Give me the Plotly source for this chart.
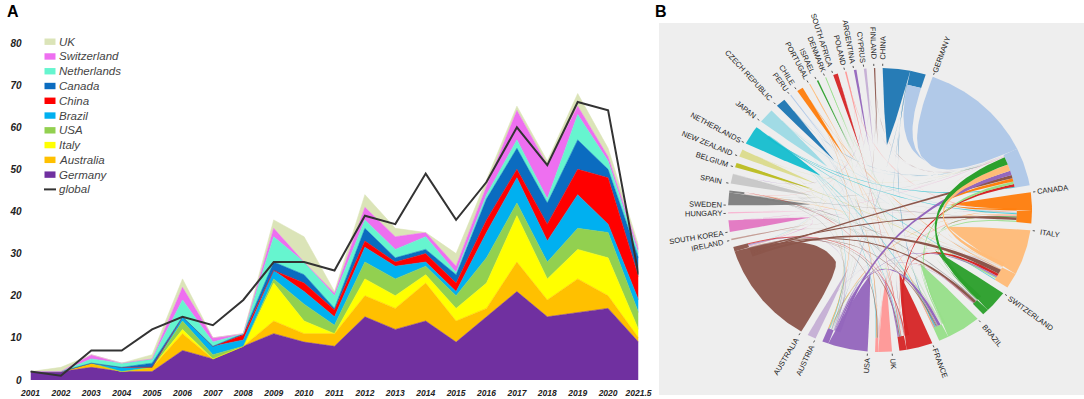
import numpy as np
import plotly.graph_objects as go

# ---------- Panel A data ----------
years = ["2001","2002","2003","2004","2005","2006","2007","2008","2009","2010","2011",
         "2012","2013","2014","2015","2016","2017","2018","2019","2020","2021.5"]
Germany     = [2,2,3,2,2,7,5,8,11,9,8,15,12,14,9,15,21,15,16,17,9]
Australia   = [0,0,1,0,1,4,0,0,3,2,3,5,5,9,5,2,7,4,8,3,1]
Italy       = [0,0,0,0,0,1,0,0,9,3,0,4,3,2,3,6,11,5,7,9,2]
USA         = [0,0,0,0,0,2,1,0,1,4,2,4,4,2,3,6,3,4,5,6,4]
Brazil      = [0,0,0,1,0,1,2,1.5,2,3,2,3.5,3,1,1,6,6,5,8,2,3]
China       = [0,0,0,0,0,0,0,1.2,0,2,1.6,1.5,1,2,2,3,2,4,6,11,5.5]
Canada      = [0,0,0,0,1,0,0,0.3,2,2,0.4,3,1,1,2,5,5,5,7,2,4.5]
Netherlands = [0,0,1,1,1,4,1,0,6,3,3,2,2,3,0.5,1,2,1,6,2,1]
Switzerland = [0,0,1,0,0,3,1,0,2,0,0.6,3,3,1,1.5,2,7,8,2,1,1]
UK          = [0,1,0,0,1,2,0,0,2,6,0.4,3,2,0,3,1.5,1,1,3,2,1]
global_line = [2,1,7,7,12,15,13,19,28,28,26,39,37,49,38,47,60,51,66,64,25]

series_names = ["Germany","Australia","Italy","USA","Brazil","China","Canada","Netherlands","Switzerland","UK"]
series_vals = [Germany,Australia,Italy,USA,Brazil,China,Canada,Netherlands,Switzerland,UK]
series_cols = ["#7030a0","#ffc000","#ffff00","#92d050","#00b0f0","#ff0000","#0b6cc0","#66f5cf","#ee6ff0","#dbe4b8"]

y_ticks = [0,10,20,30,40,50,60,70,80]

# ---------- Panel B data ----------
nodes = ["CHINA","GERMANY","CANADA","ITALY","SWITZERLAND","BRAZIL","FRANCE","UK","USA","AUSTRIA","AUSTRALIA",
         "IRELAND","SOUTH KOREA","HUNGARY","SWEDEN","SPAIN","BELGIUM","NEW ZEALAND","NETHERLANDS","JAPAN",
         "CZECH REPUBLIC","PERU","CHILE","PORTUGAL","ISRAEL","DENMARK","SOUTH AFRICA","POLAND","ARGENTINA","CYPRUS","FINLAND"]
node_weight = [16.5,59.7,12.6,24.8,11.4,17,12.8,6.4,17.6,3.3,43.7,.6,4.7,.5,6,4,1.8,3,7.7,6,3.7,.4,2.4,.4,.6,.4,1.8,.6,1,1,.5]

link_src = ["NETHERLANDS","FRANCE","BRAZIL","CANADA","AUSTRALIA","USA","ITALY","SWITZERLAND",
            "BRAZIL","SWEDEN","AUSTRALIA","SWITZERLAND","UK","ITALY","NETHERLANDS","JAPAN","POLAND",
            "NETHERLANDS","BELGIUM","BRAZIL","USA","FRANCE","AUSTRALIA","CHILE",
            "FRANCE","USA","AUSTRALIA","SWEDEN",
            "FRANCE","CHILE","CHINA","NETHERLANDS","AUSTRALIA","SWEDEN","USA",
            "USA","AUSTRALIA","NETHERLANDS","SOUTH AFRICA","PORTUGAL",
            "NETHERLANDS","CHILE","AUSTRALIA",
            "CHILE","BELGIUM","NETHERLANDS","CANADA","BRAZIL","SWEDEN","PERU",
            "FRANCE","USA","JAPAN","SOUTH KOREA",
            "FRANCE","ITALY","POLAND",
            "DENMARK","ISRAEL","FINLAND","CZECH REPUBLIC","SOUTH KOREA","SPAIN","SPAIN","HUNGARY","IRELAND",
            "AUSTRIA","AUSTRIA","NEW ZEALAND","NEW ZEALAND","CHINA","ARGENTINA","CYPRUS","JAPAN","SPAIN","BELGIUM",
            "CZECH REPUBLIC","PORTUGAL","DENMARK","ARGENTINA","UK","ITALY","BRAZIL",
            "SPAIN","SWEDEN","SWEDEN","JAPAN","NEW ZEALAND","PERU","PORTUGAL","CYPRUS","FINLAND","DENMARK",
            "CZECH REPUBLIC","SPAIN","JAPAN","CHINA","UK","AUSTRIA","SOUTH KOREA","IRELAND"]
link_dst = ["GERMANY","GERMANY","GERMANY","GERMANY","GERMANY","GERMANY","GERMANY","GERMANY",
            "CANADA","CANADA","CANADA","CANADA","CANADA","CANADA","CANADA","CANADA","CANADA",
            "ITALY","ITALY","ITALY","ITALY","ITALY","ITALY","ITALY",
            "SWITZERLAND","SWITZERLAND","SWITZERLAND","SWITZERLAND",
            "BRAZIL","BRAZIL","BRAZIL","BRAZIL","BRAZIL","BRAZIL","BRAZIL",
            "FRANCE","FRANCE","FRANCE","FRANCE","FRANCE",
            "UK","UK","UK",
            "USA","USA","USA","USA","USA","USA","USA",
            "AUSTRALIA","AUSTRALIA","AUSTRALIA","AUSTRALIA",
            "SWEDEN","SWEDEN","SWEDEN",
            "SWITZERLAND","BRAZIL","GERMANY","GERMANY","GERMANY","CANADA","ITALY","GERMANY","ITALY",
            "ITALY","UK","GERMANY","AUSTRALIA","USA","SPAIN","AUSTRALIA","GERMANY","USA","BRAZIL",
            "UK","FRANCE","USA","FRANCE","FRANCE","FRANCE","SWEDEN",
            "FRANCE","BRAZIL","GERMANY","FRANCE","ITALY","ITALY","AUSTRALIA","GERMANY","USA","BRAZIL",
            "FRANCE","USA","ITALY","FRANCE","GERMANY","SWITZERLAND","CANADA","CANADA"]
link_width = [.5,1.2,1.2,1.5,1.5,2,3,3.5,
              .6,.3,1.2,.5,.5,.4,.5,.4,.3,
              .4,.3,.6,.6,1.2,2,.3,
              .3,.3,1.2,.4,
              .2,.3,.3,.4,.5,.4,1.2,
              .6,.5,.3,.3,.15,
              .3,.3,.4,
              .3,.2,.3,.3,.3,.3,.2,
              .5,.4,.3,.3,
              .3,.3,.2,
              .15,.15,.1,.15,.2,.15,.15,.1,.2,
              .2,.1,.2,.15,.15,.1,.1,.1,.1,.1,
              .1,.1,.1,.1,.15,.15,.1,
              .1,.1,.1,.1,.1,.1,.1,.1,.1,.1,
              .1,.1,.1,.1,.1,.1,.1,.1]

tail_src = "GERMANY"
tail_dst = "CHINA"
tail_width = 6.0

# ---------- Panel B layout parameters ----------
palette = ["#1f77b4","#aec7e8","#ff7f0e","#ffbb78","#2ca02c","#98df8a","#d62728","#ff9896","#9467bd","#c5b0d5",
           "#8c564b","#c49c94","#e377c2","#f7b6d2","#7f7f7f","#c7c7c7","#bcbd22","#dbdb8d","#17becf","#9edae5"]
GAP, ROT = 2.81, 1.0
CX, CY, RX, RY = 880.0, 210.0, 152.0, 142.0
R_END, R_TIP = 0.9, 0.46
tip_angle = {"CHINA":5.7,"GERMANY":43,"CANADA":85,"ITALY":105,"SWITZERLAND":128,"BRAZIL":145,"FRANCE":164,
             "UK":175,"USA":188,"AUSTRIA":207,"AUSTRALIA":221}
W, H = 1084, 399

def hex2rgb(c):
    c = c.lstrip("#")
    return tuple(int(c[i:i+2], 16) for i in (0, 2, 4))
def blend(c, a, bg=(238,238,238)):
    r = hex2rgb(c)
    return "rgb(%d,%d,%d)" % tuple(round(r[i]*a + bg[i]*(1-a)) for i in range(3))
def rgba(c, a):
    return "rgba(%d,%d,%d,%.2f)" % (*hex2rgb(c), a)
def pol(deg, r=1.0):
    t = np.radians(deg)
    return np.array([np.sin(t)*r, np.cos(t)*r])
def arc(a, b, r=1.0):
    n = max(2, int(abs(b-a)*1.5)+2)
    return np.array([pol(d, r) for d in np.linspace(a, b, n)])
def quad(p0, c, p1, n=28):
    t = np.linspace(0, 1, n)[:, None]
    return (1-t)**2*p0 + 2*t*(1-t)*c + t**2*p1

# node angular extents
start, end, a = {}, {}, ROT
node_col = {}
for i, (n, w) in enumerate(zip(nodes, node_weight)):
    start[n], end[n] = a, a+w
    node_col[n] = palette[i % 20]
    a += w + GAP

fig = go.Figure()

# ---------- Panel A traces ----------
idx = list(range(len(years)))
for name, vals, col in zip(series_names, series_vals, series_cols):
    fig.add_trace(go.Scatter(x=idx, y=vals, name=name, stackgroup="a", mode="lines",
                             line=dict(color=col, width=0.6, shape="linear"), fillcolor=col,
                             xaxis="x", yaxis="y", hoverinfo="name+y"))
fig.add_trace(go.Scatter(x=idx, y=global_line, name="global", mode="lines",
                         line=dict(color="#333333", width=2), xaxis="x", yaxis="y"))

# ---------- Panel B geometry ----------
def poly(pts, color):
    fig.add_trace(go.Scatter(x=pts[:,0], y=pts[:,1], mode="lines", fill="toself", fillcolor=color,
                             line=dict(width=0, color=color), xaxis="x2", yaxis="y2", hoverinfo="skip"))

# incoming zone pointers (from arc end backwards)
ptr = dict(end)
dst_span = []
for s, d, w in zip(link_src, link_dst, link_width):
    dst_span.append((ptr[d]-w, ptr[d]))
    ptr[d] -= w
ptr[tail_dst] -= tail_width
zone_edge = dict(ptr)
tail_span = (end[tail_dst]-tail_width, end[tail_dst])

def edge_ctrl(deg, tip, k):
    p = pol(deg, 1.0)
    return (1-k)*pol(deg, R_TIP) + k*(p+tip)/2

# wedges
for n in nodes:
    a0, a1 = start[n], max(zone_edge[n], start[n]+0.6*(end[n]-start[n]))
    tip = pol(tip_angle.get(n, (start[n]+end[n])/2), R_TIP)
    col = blend(node_col[n], .96)
    k = 0.0 if (end[n]-start[n]) > 30 else 0.75
    pts = np.vstack([arc(a0, a1, 1.0),
                     quad(pol(a1, 1.0), edge_ctrl(a1, tip, k), tip),
                     quad(tip, edge_ctrl(a0, tip, k), pol(a0, 1.0))])
    poly(pts, col)
    if end[n] - a1 > 0.05:
        band = np.vstack([arc(a1, end[n], 1.0), arc(end[n], a1, R_END)])
        poly(band, col)

# tail of the largest ribbon
tipT = pol(tip_angle[tail_src], R_TIP)
b0, b1 = tail_span
poly(np.vstack([arc(b0, b1, R_END),
                quad(pol(b1, R_END), pol(b1, R_TIP), tipT),
                quad(tipT, pol(b0, R_TIP), pol(b0, R_END))]), blend(node_col[tail_src], .96))

# strands, thinnest first
src_ptr = dict(zone_edge)
order = np.argsort(link_width, kind="stable")
for k in order:
    s, d, w = link_src[k], link_dst[k], link_width[k]
    sw = max(0.12, w*0.6)
    a1 = max(src_ptr[s], start[s]+sw)
    a0 = a1 - sw
    src_ptr[s] = max(a0, start[s]+sw)
    b0, b1 = dst_span[k]
    c = np.array([0.0, 0.0])
    pts = np.vstack([arc(a0, a1, R_END),
                     quad(pol(a1, R_END), c, pol(b0, R_END)),
                     arc(b0, b1, R_END),
                     quad(pol(b1, R_END), c, pol(a0, R_END))])
    poly(pts, rgba(node_col[s], min(1.0, 0.35 + 0.8*w)))

# ticks and labels
tx, ty = [], []
annots = []
for n in nodes:
    th = start[n]
    u = pol(th)
    tx += [u[0]*1.015, u[0]*1.03, None]
    ty += [u[1]*1.015, u[1]*1.03, None]
    px = np.array([u[0]*RX*1.03, u[1]*RY*1.03])
    d = u/np.linalg.norm(u)
    est = len(n)*4.85
    c = px + d*(est/2 + 3)
    ang = th-90 if th <= 180 else th-270
    annots.append(dict(x=c[0]/RX, y=c[1]/RY, xref="x2", yref="y2", text=n, showarrow=False,
                       textangle=ang, xanchor="center", yanchor="middle",
                       font=dict(family="Liberation Sans", size=7.5, color="#222")))
fig.add_trace(go.Scatter(x=tx, y=ty, mode="lines", line=dict(color="#555", width=1), xaxis="x2", yaxis="y2", hoverinfo="skip"))

# ---------- custom legend for panel A ----------
shapes = [dict(type="rect", xref="paper", yref="paper", x0=659/W, x1=1, y0=1-395/H, y1=1-23/H,
               fillcolor="#eeeeee", line_width=0, layer="below")]
leg_names = series_names[::-1] + ["global"]
leg_cols = series_cols[::-1] + ["#333333"]
for i, (n, c) in enumerate(zip(leg_names, leg_cols)):
    yc = 41.7 + i*14.77
    if n == "global":
        shapes.append(dict(type="line", xref="paper", yref="paper", x0=44/W, x1=56/W, y0=1-yc/H, y1=1-yc/H,
                           line=dict(color=c, width=2)))
    else:
        shapes.append(dict(type="rect", xref="paper", yref="paper", x0=44.5/W, x1=55.5/W,
                           y0=1-(yc-3.2)/H, y1=1-(yc+3.2)/H, fillcolor=c, line_width=0))
    annots.append(dict(x=57/W, y=1-yc/H, xref="paper", yref="paper", text=n, showarrow=False, xanchor="left",
                       yanchor="middle", font=dict(family="Liberation Sans", size=11.5, color="#444", style="italic")))

for t, x in (("A", 5), ("B", 653)):
    annots.append(dict(x=x/W, y=1-11/H, xref="paper", yref="paper", text="<b>%s</b>" % t, showarrow=False, xanchor="left",
                       yanchor="middle", font=dict(family="Liberation Sans", size=16, color="#000")))

tick_font = dict(family="Liberation Sans", size=10, color="#222", weight="bold", style="italic")
fig.update_layout(
    template="none",
    width=W, height=H, autosize=False, margin=dict(l=0, r=0, t=0, b=0, pad=0, autoexpand=False), showlegend=False,
    paper_bgcolor="white", plot_bgcolor="white", shapes=shapes, annotations=annots,
    xaxis=dict(domain=[30.5/W, 638.5/W], range=[0, 20], tickvals=idx, ticktext=years, showgrid=False, zeroline=False,
               showline=False, ticks="outside", ticklen=5, tickcolor="rgba(0,0,0,0)", tickangle=0, automargin=False,
               tickfont=dict(family="Liberation Sans", size=8.5, color="#222", weight="bold", style="italic"), fixedrange=True),
    yaxis=dict(domain=[1-380/H, 1-43/H], range=[0, 80], tickvals=y_ticks, showgrid=False, zeroline=False, showline=False,
               ticks="outside", ticklen=6, tickcolor="rgba(0,0,0,0)", tickfont=tick_font, fixedrange=True, automargin=False),
    xaxis2=dict(domain=[659/W, 1], range=[(659-CX)/RX, (1084-CX)/RX], visible=False, fixedrange=True, automargin=False),
    yaxis2=dict(domain=[1-395/H, 1-23/H], range=[(CY-395)/RY, (CY-23)/RY], visible=False, fixedrange=True, automargin=False),
)
fig.write_html("out.html", default_width="1084px", default_height="399px",
               config={"responsive": False, "displayModeBar": False},
               post_script="document.body.style.margin='0';document.documentElement.style.overflow='hidden';")
